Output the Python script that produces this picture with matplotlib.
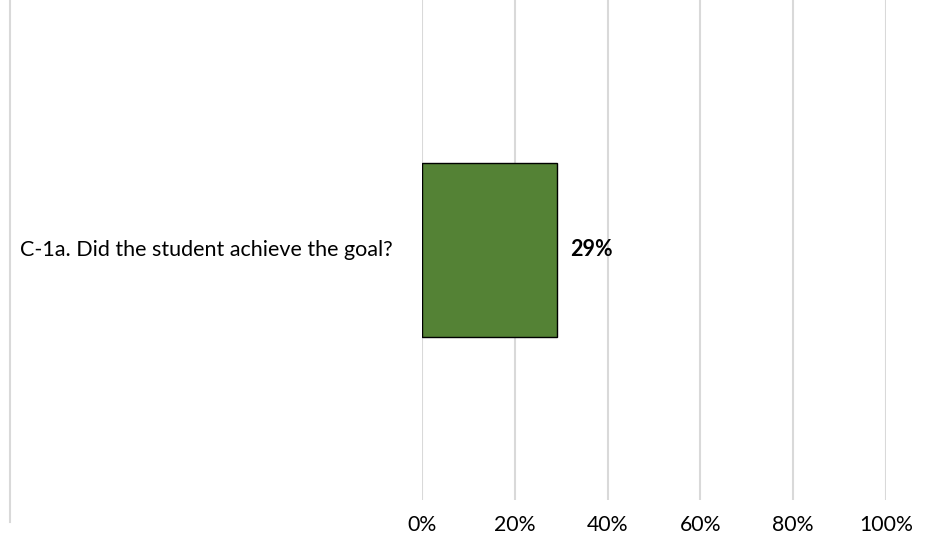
import matplotlib
matplotlib.use('Agg')
import matplotlib.pyplot as plt
from matplotlib.lines import Line2D
from matplotlib.ticker import PercentFormatter

plt.rcParams['font.family'] = ['Lato', 'DejaVu Sans']

# survey result
categories = ['C-1a. Did the student achieve the goal?']
values = [29]
ticks = [0, 20, 40, 60, 80, 100]

fig = plt.figure(figsize=(9.34, 5.43), dpi=100)
ax = fig.add_axes([422 / 934, 43 / 543, 464 / 934, 500 / 543])

ax.barh([0], values, height=0.348, color='#548235', edgecolor='black', linewidth=1, zorder=3)
ax.set_xlim(0, 100)
ax.set_ylim(-0.5, 0.5)
ax.set_xticks(ticks)
ax.xaxis.set_major_formatter(PercentFormatter(decimals=0))
ax.set_yticks([])
ax.grid(axis='x', color='#d9d9d9', linewidth=1.5, zorder=0)
for s in ax.spines.values():
    s.set_visible(False)
ax.tick_params(axis='x', length=0, labelsize=15.3, labelcolor='#000000', pad=11)

for i, v in enumerate(values):
    ax.text(v + 2.9, i, f'{v}%', va='center', ha='left', fontsize=15.5, fontweight='bold')

# category label sits at the left edge of the figure
fig.text(20 / 934, 1 - 250 / 543, categories[0], ha='left', va='center', fontsize=15.5)

# light border on the left
fig.add_artist(Line2D([10 / 934, 10 / 934], [1 - 522 / 543, 1], color='#d9d9d9', linewidth=1.5))

fig.savefig('out.png', dpi=100, facecolor='white')
